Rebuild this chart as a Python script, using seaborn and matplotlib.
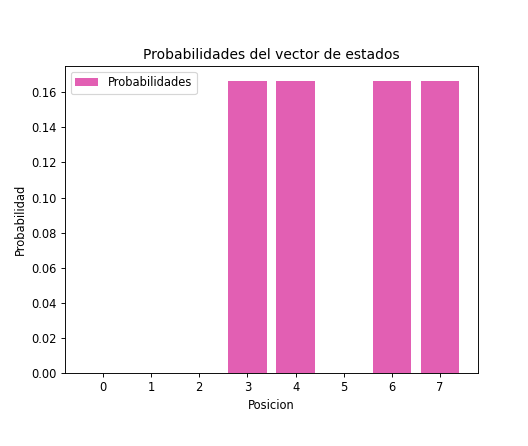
import matplotlib
matplotlib.use("Agg")
import matplotlib.pyplot as plt
import seaborn as sns
import pandas as pd

posiciones = [0, 1, 2, 3, 4, 5, 6, 7]
probabilidades = [0.0, 0.0, 0.0, 1/6, 1/6, 0.0, 1/6, 1/6]

df = pd.DataFrame({"Posicion": posiciones, "Probabilidad": probabilidades})

plt.rcParams["font.family"] = ["DejaVu Sans"]

DPI = 83.1
W, H = 528, 446
fig = plt.figure(figsize=(W / DPI, H / DPI), dpi=DPI)
left, right, top, bottom = 65, 478, 66, 373
ax = fig.add_axes([left / W, 1 - bottom / H, (right - left) / W, (bottom - top) / H])

sns.barplot(data=df, x="Posicion", y="Probabilidad", native_scale=True,
            color="#e25fb3", saturation=1, width=0.8, ax=ax,
            label="Probabilidades", errorbar=None)

ax.set_xlim(-0.79, 7.79)
ax.set_ylim(0, 0.175)
ax.set_xticks(posiciones)
ax.set_title("Probabilidades del vector de estados")
ax.set_xlabel("Posicion")
ax.set_ylabel("Probabilidad")
ax.legend(loc="upper left")

fig.savefig("out.png", dpi=DPI)
